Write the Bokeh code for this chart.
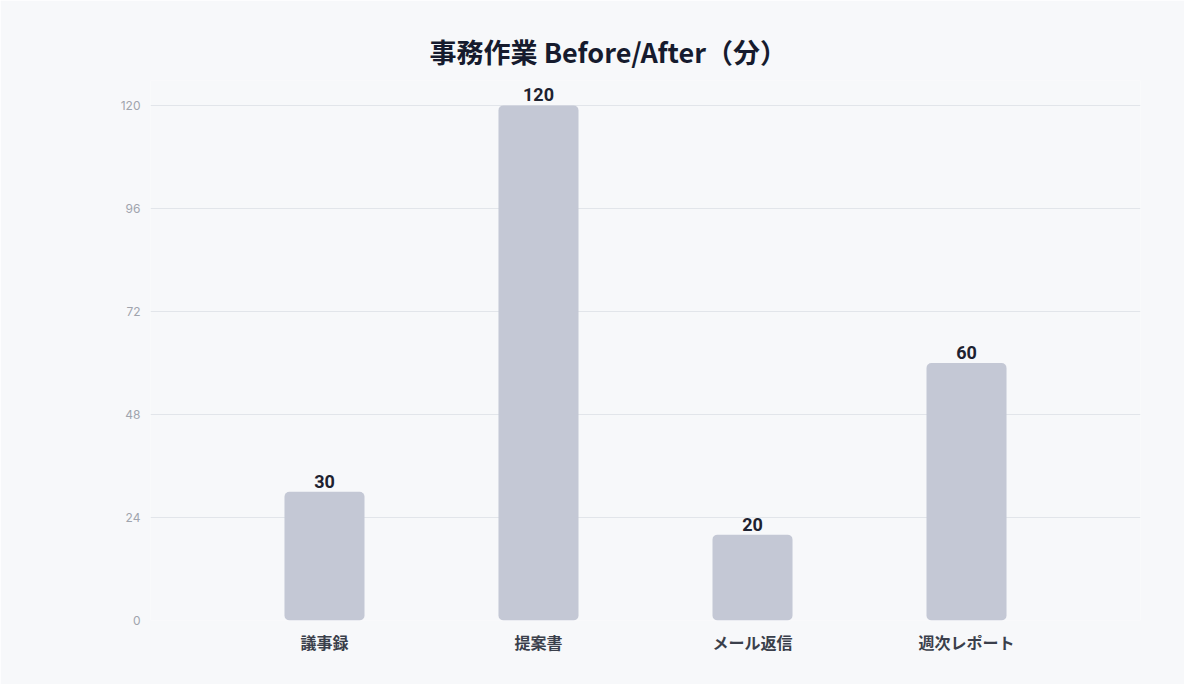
from bokeh.plotting import figure
from bokeh.models import ColumnDataSource, Range1d, FixedTicker
from bokeh.core.properties import value
from bokeh.embed import file_html
from bokeh.resources import INLINE

title = "事務作業 Before/After（分）"
categories = ["議事録", "提案書", "メール返信", "週次レポート"]
minutes = [30, 120, 20, 60]
y_ticks = [0, 24, 48, 72, 96, 120]

xs = list(range(len(categories)))
src = ColumnDataSource(dict(x=xs, top=minutes, label=[str(v) for v in minutes]))

BG = "#f7f8fa"
p = figure(width=1184, height=684, output_backend="svg", toolbar_location=None,
           x_range=Range1d(-0.813, 3.813), y_range=Range1d(0, 125.8),
           min_border_left=150, min_border_right=44, min_border_bottom=64, min_border_top=80,
           title=title)
p.background_fill_color = BG
p.border_fill_color = BG
p.outline_line_color = None

p.title.align = "left"
p.title.offset = 279
p.title.text_font = "Noto Sans CJK JP"
p.title.text_font_style = "bold"
p.title.text_font_size = "27px"
p.title.text_color = "#161b2e"
p.title.standoff = 20

p.vbar(x="x", top="top", width=0.374, bottom=0, source=src,
       fill_color="#c4c8d5", line_color=None, border_radius=5)
p.text(x="x", y="top", text="label", source=src, text_align="center",
       text_baseline="bottom", y_offset=-4, text_font=value("Roboto"),
       text_font_style="bold", text_font_size="18px", text_color="#1e2230")

p.xgrid.grid_line_color = None
p.ygrid.grid_line_color = "#e2e5ea"
p.ygrid.grid_line_width = 1

p.xaxis.ticker = FixedTicker(ticks=xs)
p.xaxis.major_label_overrides = {i: c for i, c in enumerate(categories)}
p.yaxis.ticker = FixedTicker(ticks=y_ticks)
for ax in (p.xaxis, p.yaxis):
    ax.axis_line_color = None
    ax.major_tick_line_color = None
    ax.minor_tick_line_color = None
p.xaxis.major_label_text_font = "Noto Sans CJK JP"
p.xaxis.major_label_text_font_style = "bold"
p.xaxis.major_label_text_font_size = "16px"
p.xaxis.major_label_text_color = "#3a3f4b"
p.xaxis.major_label_standoff = 3
p.yaxis.major_label_text_font = "Inter"
p.yaxis.major_label_text_font_size = "12px"
p.yaxis.major_label_text_color = "#a0a4ad"
p.yaxis.major_label_standoff = 4

open("out.html", "w").write(file_html(p, INLINE))
